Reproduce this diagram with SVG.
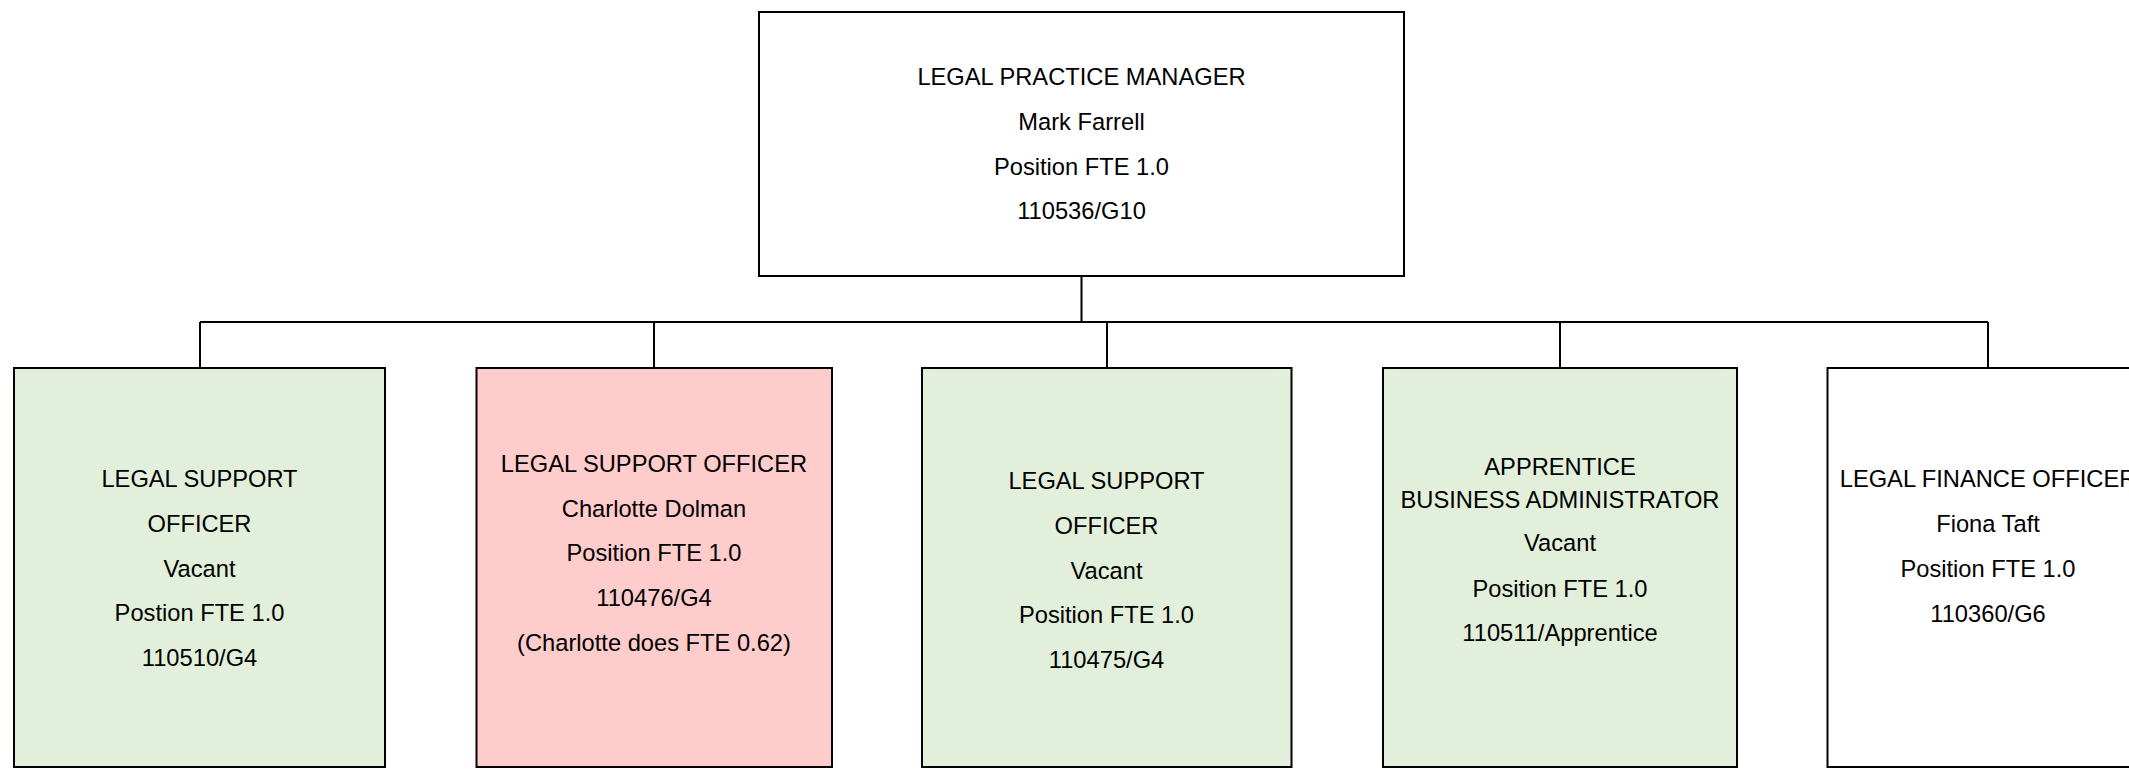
<svg xmlns="http://www.w3.org/2000/svg" width="2129" height="769" viewBox="0 0 2129 769">
<style>
.box{stroke:#000;stroke-width:2;}
.plain{fill:#fff;}
.green{fill:#E2EFDA;}
.pink{fill:#FFCCCC;}
.conn{stroke:#000;stroke-width:2;fill:none;}
text{font-family:"Liberation Sans",Arial,sans-serif;font-size:23.7px;fill:#000;text-anchor:middle;}
</style>
<rect width="2129" height="769" fill="#fff"/>
<g id="connectors">
<path class="conn" d="M1081.5 276 V322 M200 322 H1988 M200 322 V368 M654 322 V368 M1107 322 V368 M1560 322 V368 M1988 322 V368"/>
</g>
<g id="manager">
<rect class="box plain" x="759" y="12" width="645" height="264"/>
<text x="1081.5" y="85">LEGAL PRACTICE MANAGER</text>
<text x="1081.5" y="130">Mark Farrell</text>
<text x="1081.5" y="175">Position FTE 1.0</text>
<text x="1081.5" y="219">110536/G10</text>
</g>
<g id="lso1">
<rect class="box green" x="14" y="368" width="371" height="399"/>
<text x="199.5" y="487">LEGAL SUPPORT</text>
<text x="199.5" y="532">OFFICER</text>
<text x="199.5" y="577">Vacant</text>
<text x="199.5" y="621">Postion FTE 1.0</text>
<text x="199.5" y="666">110510/G4</text>
</g>
<g id="lso2">
<rect class="box pink" x="476.5" y="368" width="355.5" height="399"/>
<text x="654" y="472">LEGAL SUPPORT OFFICER</text>
<text x="654" y="517">Charlotte Dolman</text>
<text x="654" y="561">Position FTE 1.0</text>
<text x="654" y="606">110476/G4</text>
<text x="654" y="651">(Charlotte does FTE 0.62)</text>
</g>
<g id="lso3">
<rect class="box green" x="922" y="368" width="369.5" height="399"/>
<text x="1106.5" y="489">LEGAL SUPPORT</text>
<text x="1106.5" y="534">OFFICER</text>
<text x="1106.5" y="579">Vacant</text>
<text x="1106.5" y="623">Position FTE 1.0</text>
<text x="1106.5" y="668">110475/G4</text>
</g>
<g id="apprentice">
<rect class="box green" x="1383" y="368" width="354" height="399"/>
<text x="1560" y="475">APPRENTICE</text>
<text x="1560" y="508">BUSINESS ADMINISTRATOR</text>
<text x="1560" y="551">Vacant</text>
<text x="1560" y="597">Position FTE 1.0</text>
<text x="1560" y="641">110511/Apprentice</text>
</g>
<g id="finance">
<rect class="box plain" x="1827.5" y="368" width="330" height="399"/>
<text x="1988" y="487">LEGAL FINANCE OFFICER</text>
<text x="1988" y="532">Fiona Taft</text>
<text x="1988" y="577">Position FTE 1.0</text>
<text x="1988" y="622">110360/G6</text>
</g>
</svg>
